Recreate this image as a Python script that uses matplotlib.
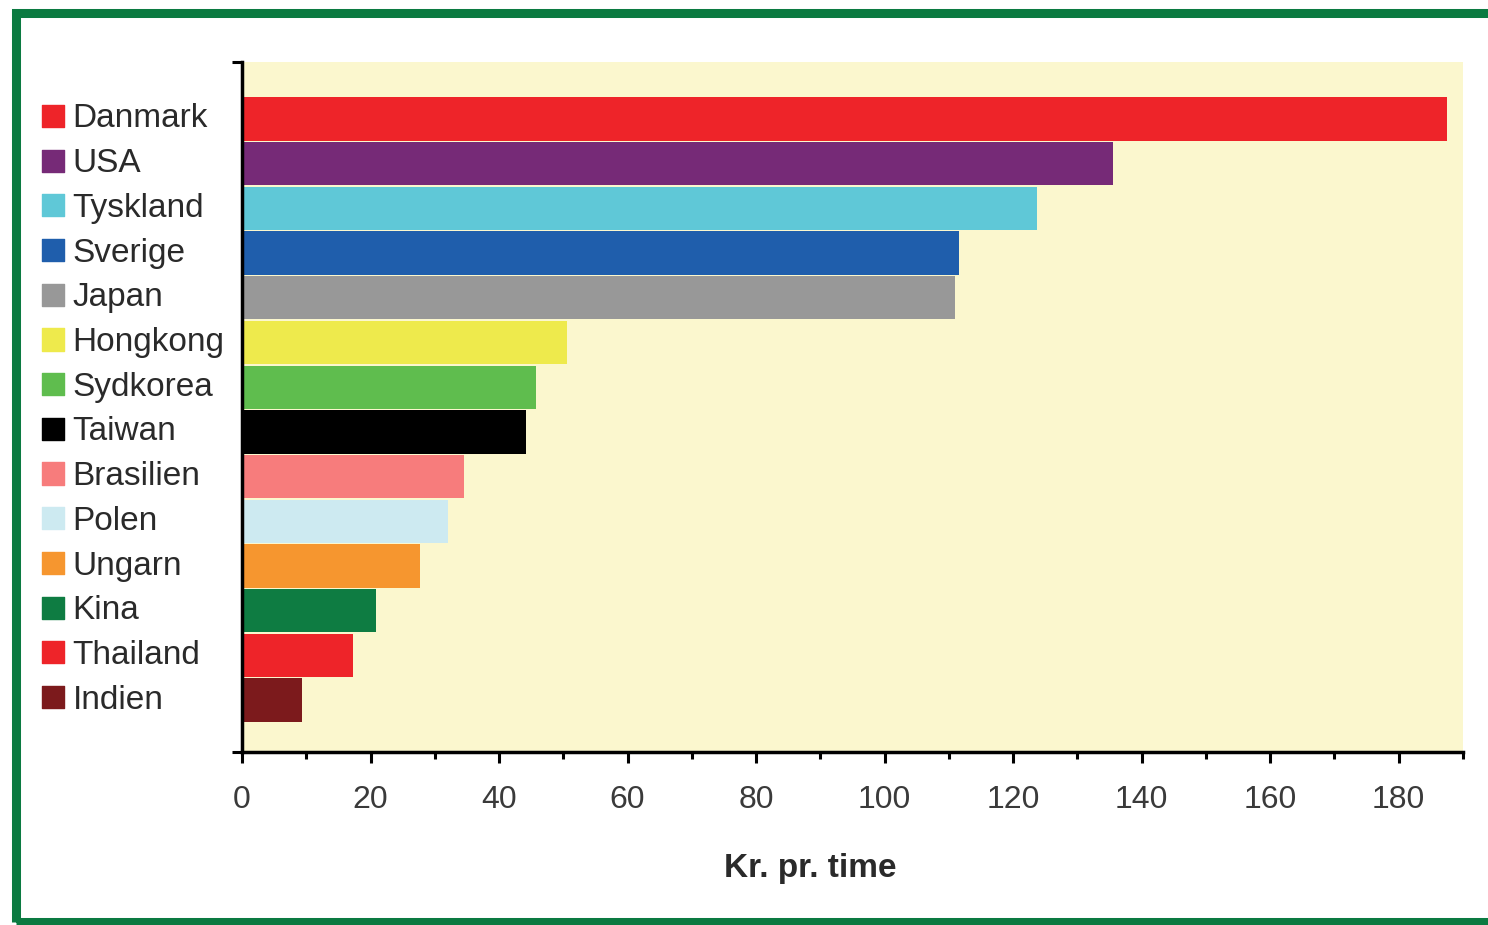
import matplotlib
matplotlib.use("Agg")
import matplotlib.pyplot as plt
from matplotlib.patches import Rectangle
import matplotlib.transforms as mtransforms

plt.rcParams['font.family'] = ['Liberation Sans', 'DejaVu Sans']

countries = ["Danmark", "USA", "Tyskland", "Sverige", "Japan", "Hongkong", "Sydkorea",
             "Taiwan", "Brasilien", "Polen", "Ungarn", "Kina", "Thailand", "Indien"]
values = [187.5, 135.5, 123.7, 111.5, 110.9, 50.5, 45.8, 44.2, 34.6, 32.1, 27.7, 20.9, 17.3, 9.3]
colors = ["#EE2429", "#762A77", "#5FC8D7", "#1F5EAC", "#989898", "#EEEA4C", "#5FBD4E",
          "#000000", "#F77C7C", "#CDEAF1", "#F6962F", "#0E7C42", "#EE2429", "#7C1A1C"]
xticks = list(range(0, 181, 20))
xlabel = "Kr. pr. time"

fig = plt.figure(figsize=(14.88, 9.25), dpi=100)
fig.patch.set_facecolor("white")

# green frame round the chart
fig.patches.append(Rectangle((16 / 1488, 3 / 925), 1.05, 1 - 16 / 925,
                             transform=fig.transFigure, fill=False,
                             edgecolor="#0B7A41", linewidth=6.5))

ax = fig.add_axes([242 / 1488, 1 - 752 / 925, (1463 - 242) / 1488, (752 - 62) / 925])
ax.set_facecolor("#FBF7CE")

ypos = list(range(len(countries)))
ax.barh(ypos, values, height=0.97, color=colors, zorder=2)

ax.set_xlim(0, 190)
ax.set_ylim(14.16, -1.275)

ax.set_xticks(xticks)
ax.set_xticks(list(range(10, 191, 20)), minor=True)
ax.tick_params(axis="x", which="major", length=8, width=2.2, labelsize=23,
               labelcolor="#3a3a3a", pad=16)
ax.tick_params(axis="x", which="minor", length=5, width=2.2)

ax.set_yticks(ypos)
ax.set_yticklabels(countries, ha="left", va="center")
ax.tick_params(axis="y", which="major", length=0, labelsize=24,
               labelcolor="#2a2a2a", pad=122)
ax.set_yticks([14.16, -1.275], minor=True)
ax.tick_params(axis="y", which="minor", length=7, width=2.2)

for side in ["top", "right"]:
    ax.spines[side].set_visible(False)
for side in ["left", "bottom"]:
    ax.spines[side].set_linewidth(2.5)

# colored squares in front of the names
trans = mtransforms.blended_transform_factory(ax.transAxes, ax.transData)
trans = mtransforms.offset_copy(trans, fig=fig, y=2.2, units="points")
ax.scatter([-0.1548] * len(countries), ypos, marker="s", s=16 ** 2, c=colors,
           transform=trans, clip_on=False, zorder=3)

fig.text(810 / 1488, 1 - 868 / 925, xlabel, ha="center", va="center",
         fontsize=24, fontweight="bold", color="#2a2a2a")

fig.savefig("out.png", dpi=100)
